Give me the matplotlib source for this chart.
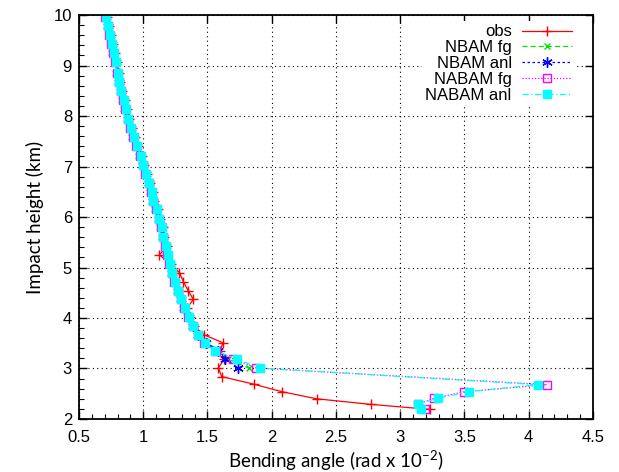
import numpy as np
import matplotlib
matplotlib.use('Agg')
import matplotlib.pyplot as plt
from matplotlib.ticker import MultipleLocator

plt.rcParams['font.family'] = ['Liberation Sans', 'DejaVu Sans']
plt.rcParams['mathtext.default'] = 'regular'

# impact heights (km) of the model profiles
h_model = [9.97, 9.78, 9.60, 9.42, 9.24, 9.06, 8.86, 8.68, 8.50, 8.32,
           8.14, 7.95, 7.77, 7.59, 7.41, 7.21, 7.03, 6.85, 6.68, 6.50,
           6.32, 6.15, 5.97, 5.80, 5.61, 5.43, 5.25, 5.07, 4.90, 4.72,
           4.54, 4.37, 4.19, 4.01, 3.84, 3.67, 3.51, 3.35, 3.19, 3.01]
h_low = [2.68, 2.54, 2.41, 2.29, 2.19]

# bending angle (rad x 1e-2)
nabam_anl = [0.710, 0.728, 0.741, 0.757, 0.770, 0.788, 0.801, 0.814, 0.829, 0.848,
             0.863, 0.884, 0.905, 0.926, 0.951, 0.980, 1.000, 1.021, 1.047, 1.066,
             1.078, 1.105, 1.125, 1.144, 1.156, 1.177, 1.190, 1.208, 1.226, 1.247,
             1.273, 1.296, 1.322, 1.356, 1.390, 1.430, 1.480, 1.560, 1.727, 1.905,
             4.07, 3.535, 3.29, 3.135, 3.16]
nabam_fg = [0.705, 0.723, 0.736, 0.752, 0.765, 0.783, 0.796, 0.809, 0.824, 0.843,
            0.858, 0.879, 0.900, 0.921, 0.946, 0.975, 0.995, 1.016, 1.042, 1.061,
            1.073, 1.100, 1.120, 1.139, 1.151, 1.172, 1.185, 1.203, 1.221, 1.242,
            1.268, 1.291, 1.317, 1.350, 1.384, 1.424, 1.470, 1.570, 1.700, 1.880,
            4.14, 3.50, 3.26, 3.14, 3.19]
nbam_anl = [0.708, 0.726, 0.739, 0.755, 0.768, 0.786, 0.799, 0.812, 0.827, 0.846,
            0.861, 0.882, 0.903, 0.924, 0.949, 0.978, 0.998, 1.019, 1.045, 1.064,
            1.076, 1.103, 1.123, 1.142, 1.154, 1.175, 1.188, 1.206, 1.224, 1.245,
            1.271, 1.294, 1.320, 1.353, 1.387, 1.427, 1.490, 1.580, 1.636, 1.740]
nbam_fg = [0.708, 0.726, 0.739, 0.755, 0.768, 0.786, 0.799, 0.812, 0.827, 0.846,
           0.861, 0.882, 0.903, 0.924, 0.949, 0.978, 0.998, 1.019, 1.045, 1.064,
           1.076, 1.103, 1.123, 1.142, 1.154, 1.175, 1.188, 1.206, 1.224, 1.245,
           1.271, 1.294, 1.320, 1.353, 1.387, 1.427, 1.500, 1.590, 1.660, 1.820]

h_obs = [9.97, 9.78, 9.60, 9.42, 9.24, 9.06, 8.86, 8.68, 8.50, 8.32,
         8.14, 7.95, 7.77, 7.59, 7.41, 7.21, 7.03, 6.85, 6.68, 6.50,
         6.32, 6.15, 5.97, 5.80, 5.61, 5.43, 5.25, 5.07, 4.90, 4.72,
         4.54, 4.37, 4.19, 4.01, 3.84, 3.67, 3.51, 3.35, 3.19, 3.01,
         2.84, 2.69, 2.54, 2.40, 2.29, 2.19]
obs = [0.715, 0.735, 0.748, 0.765, 0.778, 0.796, 0.809, 0.823, 0.838, 0.858,
       0.873, 0.893, 0.912, 0.935, 0.958, 0.988, 1.008, 1.030, 1.056, 1.073,
       1.086, 1.114, 1.133, 1.150, 1.163, 1.186, 1.125, 1.215, 1.282, 1.312,
       1.350, 1.390, 1.340, 1.365, 1.395, 1.470, 1.620, 1.600, 1.630, 1.585,
       1.610, 1.860, 2.080, 2.350, 2.770, 3.230]

fig = plt.figure(figsize=(6.19, 4.72), dpi=100)
ax = fig.add_axes([0.1276, 0.1123, 0.8304, 0.8559])

ax.plot(obs, h_obs, color='#ff0000', lw=0.9, ls='-', marker='+', ms=7, mew=1.0, label='obs')
ax.plot(nbam_fg, h_model, color='#00e000', lw=0.9, ls=(0, (4, 2.5)), marker='x', ms=5, mew=1.0, label='NBAM fg')
ax.plot(nbam_anl, h_model, color='#0000ff', lw=0.9, ls=(0, (2, 2)), marker=(6, 2, 0), ms=7.5, mew=1.0, label='NBAM anl')
ax.plot(nabam_fg, h_model + h_low, color='#ff00ff', lw=0.9, ls=(0, (1, 1.5)), marker='s', ms=6.3,
        mfc='none', mew=1.0, label='NABAM fg')
ax.plot(nabam_anl, h_model + h_low, color='#00ffff', lw=0.9, ls=(0, (5, 2, 1, 2)), marker='s', ms=6.3,
        mfc='#00ffff', mec='#00ffff', label='NABAM anl')

ax.set_xlim(0.5, 4.5)
ax.set_ylim(2, 10)
ax.xaxis.set_minor_locator(MultipleLocator(0.1))
ax.yaxis.set_major_locator(MultipleLocator(1))
ax.yaxis.set_minor_locator(MultipleLocator(0.2))
ax.set_xticks([0.5, 1, 1.5, 2, 2.5, 3, 3.5, 4, 4.5])
ax.set_xticklabels(['0.5', '1', '1.5', '2', '2.5', '3', '3.5', '4', '4.5'])
ax.tick_params(which='major', direction='in', length=6, width=1, labelsize=12, top=True, right=True)
ax.tick_params(axis='x', which='major', pad=8)
ax.tick_params(axis='y', which='major', pad=5)
ax.tick_params(which='minor', direction='in', length=3.5, width=0.8)
ax.grid(True, which='major', color='k', ls=(0, (1, 3)), lw=0.8)
for s in ax.spines.values():
    s.set_linewidth(1.3)

ax.set_xlabel(r'Bending angle (rad x 10$^{-2}$)', fontsize=13.5, family='Lato', labelpad=3)
ax.set_ylabel('Impact height (km)', fontsize=13.5, family='Lato', labelpad=7)

leg = ax.legend(loc='upper right', bbox_to_anchor=(0.965, 0.985), markerfirst=False, fontsize=12,
                frameon=True, edgecolor='none', facecolor='white', framealpha=1, fancybox=False,
                handlelength=3.0, handletextpad=0.6, labelspacing=0.05, borderpad=0.2, borderaxespad=0)

fig.savefig('out.png', dpi=100)
